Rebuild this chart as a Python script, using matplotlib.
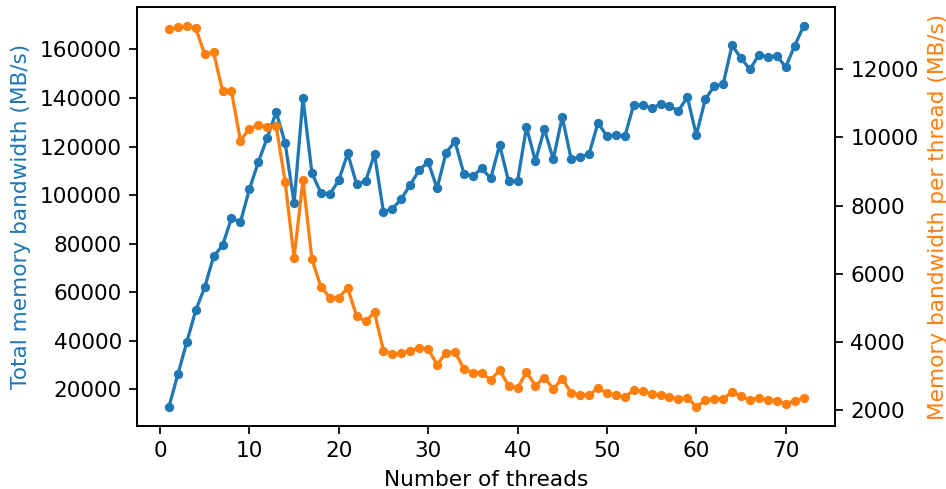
import matplotlib
matplotlib.use('Agg')
import matplotlib.pyplot as plt
import numpy as np

# thread counts 1..72
threads = list(range(1, 73))

# total memory bandwidth (MB/s)
total_bw = [12835, 26180, 39480, 52530, 62000, 74770, 79300, 90540, 88900, 102360,
            113600, 123600, 134200, 121550, 96840, 139840, 109070, 100960, 100420, 106070,
            117190, 104540, 105650, 116900, 93140, 94370, 98490, 104250, 110300, 113730,
            102770, 117430, 122130, 108790, 107840, 111010, 106890, 120730, 105650, 105650,
            128010, 114010, 127190, 114710, 132260, 114840, 115660, 116900, 129780, 124310,
            124850, 124180, 137200, 137200, 135720, 137490, 136540, 134730, 140370, 124720,
            139420, 144900, 145600, 161780, 156310, 151780, 157790, 156840, 157380, 152730,
            161500, 169480]

# memory bandwidth per thread (MB/s)
per_thread_bw = [13164, 13223, 13253, 13211, 12430, 12489, 11360, 11352, 9903, 10256,
                 10353, 10314, 10332, 8699, 6466, 8746, 6425, 5623, 5299, 5299,
                 5584, 4762, 4603, 4868, 3742, 3645, 3663, 3742, 3822, 3801,
                 3331, 3684, 3704, 3213, 3096, 3096, 2890, 3175, 2723, 2646,
                 3116, 2723, 2958, 2626, 2928, 2499, 2458, 2441, 2646, 2499,
                 2441, 2382, 2588, 2558, 2470, 2450, 2391, 2323, 2370, 2097,
                 2294, 2341, 2323, 2538, 2411, 2303, 2361, 2303, 2282, 2176,
                 2282, 2353]

dpi = 156
fig, ax1 = plt.subplots(figsize=(946 / dpi, 489 / dpi), dpi=dpi)
fig.subplots_adjust(left=0.145, right=0.883, top=0.985, bottom=0.129)

ax1.plot(threads, total_bw, color='tab:blue', marker='o', markersize=3.3)
ax1.set_xlabel('Number of threads')
ax1.set_ylabel('Total memory bandwidth (MB/s)', color='tab:blue')

ax2 = ax1.twinx()
ax2.plot(threads, per_thread_bw, color='tab:orange', marker='o', markersize=3.3)
ax2.set_ylabel('Memory bandwidth per thread (MB/s)', color='tab:orange')

ax1.set_xticks(np.arange(0, 80, 10))

fig.savefig('out.png', dpi=dpi)
